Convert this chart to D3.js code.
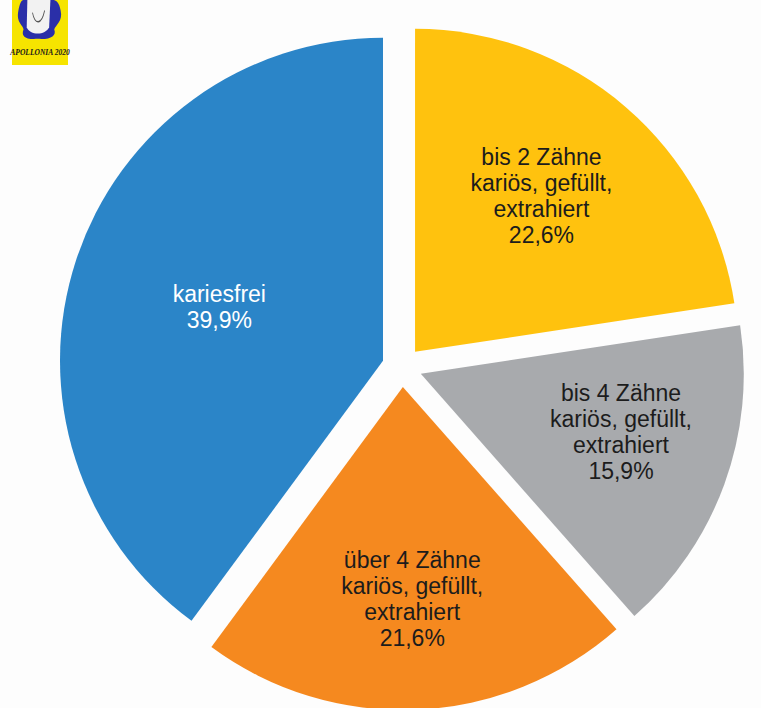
<!DOCTYPE html>
<html>
<head>
<meta charset="utf-8">
<script src="https://cdn.jsdelivr.net/npm/d3@7.9.0/dist/d3.min.js"></script>
<style>
  html, body { margin: 0; padding: 0; background: #fdfdfd; }
  svg { display: block; }
  text { font-family: "Liberation Sans", Arial, sans-serif; }
</style>
</head>
<body>
<svg id="chart" width="761" height="708"></svg>
<script>
// data, clockwise from 12 o'clock
const categories = [
  ['bis 2 Zähne', 'kariös, gefüllt,', 'extrahiert'],
  ['bis 4 Zähne', 'kariös, gefüllt,', 'extrahiert'],
  ['über 4 Zähne', 'kariös, gefüllt,', 'extrahiert'],
  ['kariesfrei']
];
const values = [22.6, 15.9, 21.6, 39.9];

const colors = ['#FFC20E', '#A8AAAD', '#F5891F', '#2B85C8'];
const textColors = ['#1c1c1c', '#1c1c1c', '#1c1c1c', '#ffffff'];
// label placement: fraction of radius + small nudge (px)
const labelRadius = [0.61, 0.62, 0.66, 0.54];
const labelNudge = [[-2, -5], [12, -9], [0, 0], [2, 2]];

const cx = 402, cy = 367, radius = 323, explode = 20;
const lineHeight = 26;

const svg = d3.select('#chart');

// logo in the corner
const logo = svg.append('g').attr('class', 'logo');
logo.append('rect').attr('x', 12).attr('y', 0).attr('width', 56).attr('height', 65).attr('fill', '#F6E400');
const fig = logo.append('g').attr('transform', 'translate(12,0) scale(0.64,1.05) translate(-12,0)');
fig.append('path')
  .attr('d', 'M22,10 C18,22 30,24 30,28 C26,34 32,38 52,37 C72,38 82,34 78,28 C80,24 92,20 88,10 C86,2 80,0 76,0 L30,0 C26,0 24,4 22,10 Z')
  .attr('fill', '#2A2FA8');
fig.append('path')
  .attr('d', 'M36,0 L35,26 C40,34 64,34 70,26 L72,0 Z')
  .attr('fill', '#f2f2f2');
fig.append('path')
  .attr('d', 'M44,12 C48,24 58,24 63,10')
  .attr('fill', 'none').attr('stroke', '#555').attr('stroke-width', 1.3);
logo.append('text')
  .attr('x', 40).attr('y', 55)
  .attr('text-anchor', 'middle')
  .style('font-family', '"Liberation Serif", "DejaVu Serif", serif')
  .style('font-weight', 'bold').style('font-style', 'italic')
  .style('font-size', '7.5px').attr('fill', '#1a1a1a')
  .text('APOLLONIA 2020');

const pie = d3.pie().sort(null).value(d => d);
const arcs = pie(values);
const arc = d3.arc().innerRadius(0).outerRadius(radius);

const g = svg.append('g').attr('transform', `translate(${cx},${cy})`);

const slices = g.selectAll('g.slice')
  .data(arcs)
  .join('g')
  .attr('class', 'slice')
  .attr('transform', d => {
    const mid = (d.startAngle + d.endAngle) / 2;
    return `translate(${Math.sin(mid) * explode},${-Math.cos(mid) * explode})`;
  });

slices.append('path')
  .attr('d', arc)
  .attr('fill', (d, i) => colors[i]);

slices.each(function (d, i) {
  const lr = radius * labelRadius[i];
  let [lx, ly] = d3.arc().innerRadius(lr).outerRadius(lr).centroid(d);
  lx += labelNudge[i][0];
  ly += labelNudge[i][1];
  const lines = [...categories[i], values[i].toFixed(1).replace('.', ',') + '%'];
  const t = d3.select(this).append('text')
    .attr('text-anchor', 'middle')
    .attr('fill', textColors[i])
    .style('font-size', '23px');
  lines.forEach((line, k) => {
    t.append('tspan')
      .attr('x', lx)
      .attr('y', ly + (k - (lines.length - 1) / 2) * lineHeight + 7)
      .text(line);
  });
});
</script>
</body>
</html>
